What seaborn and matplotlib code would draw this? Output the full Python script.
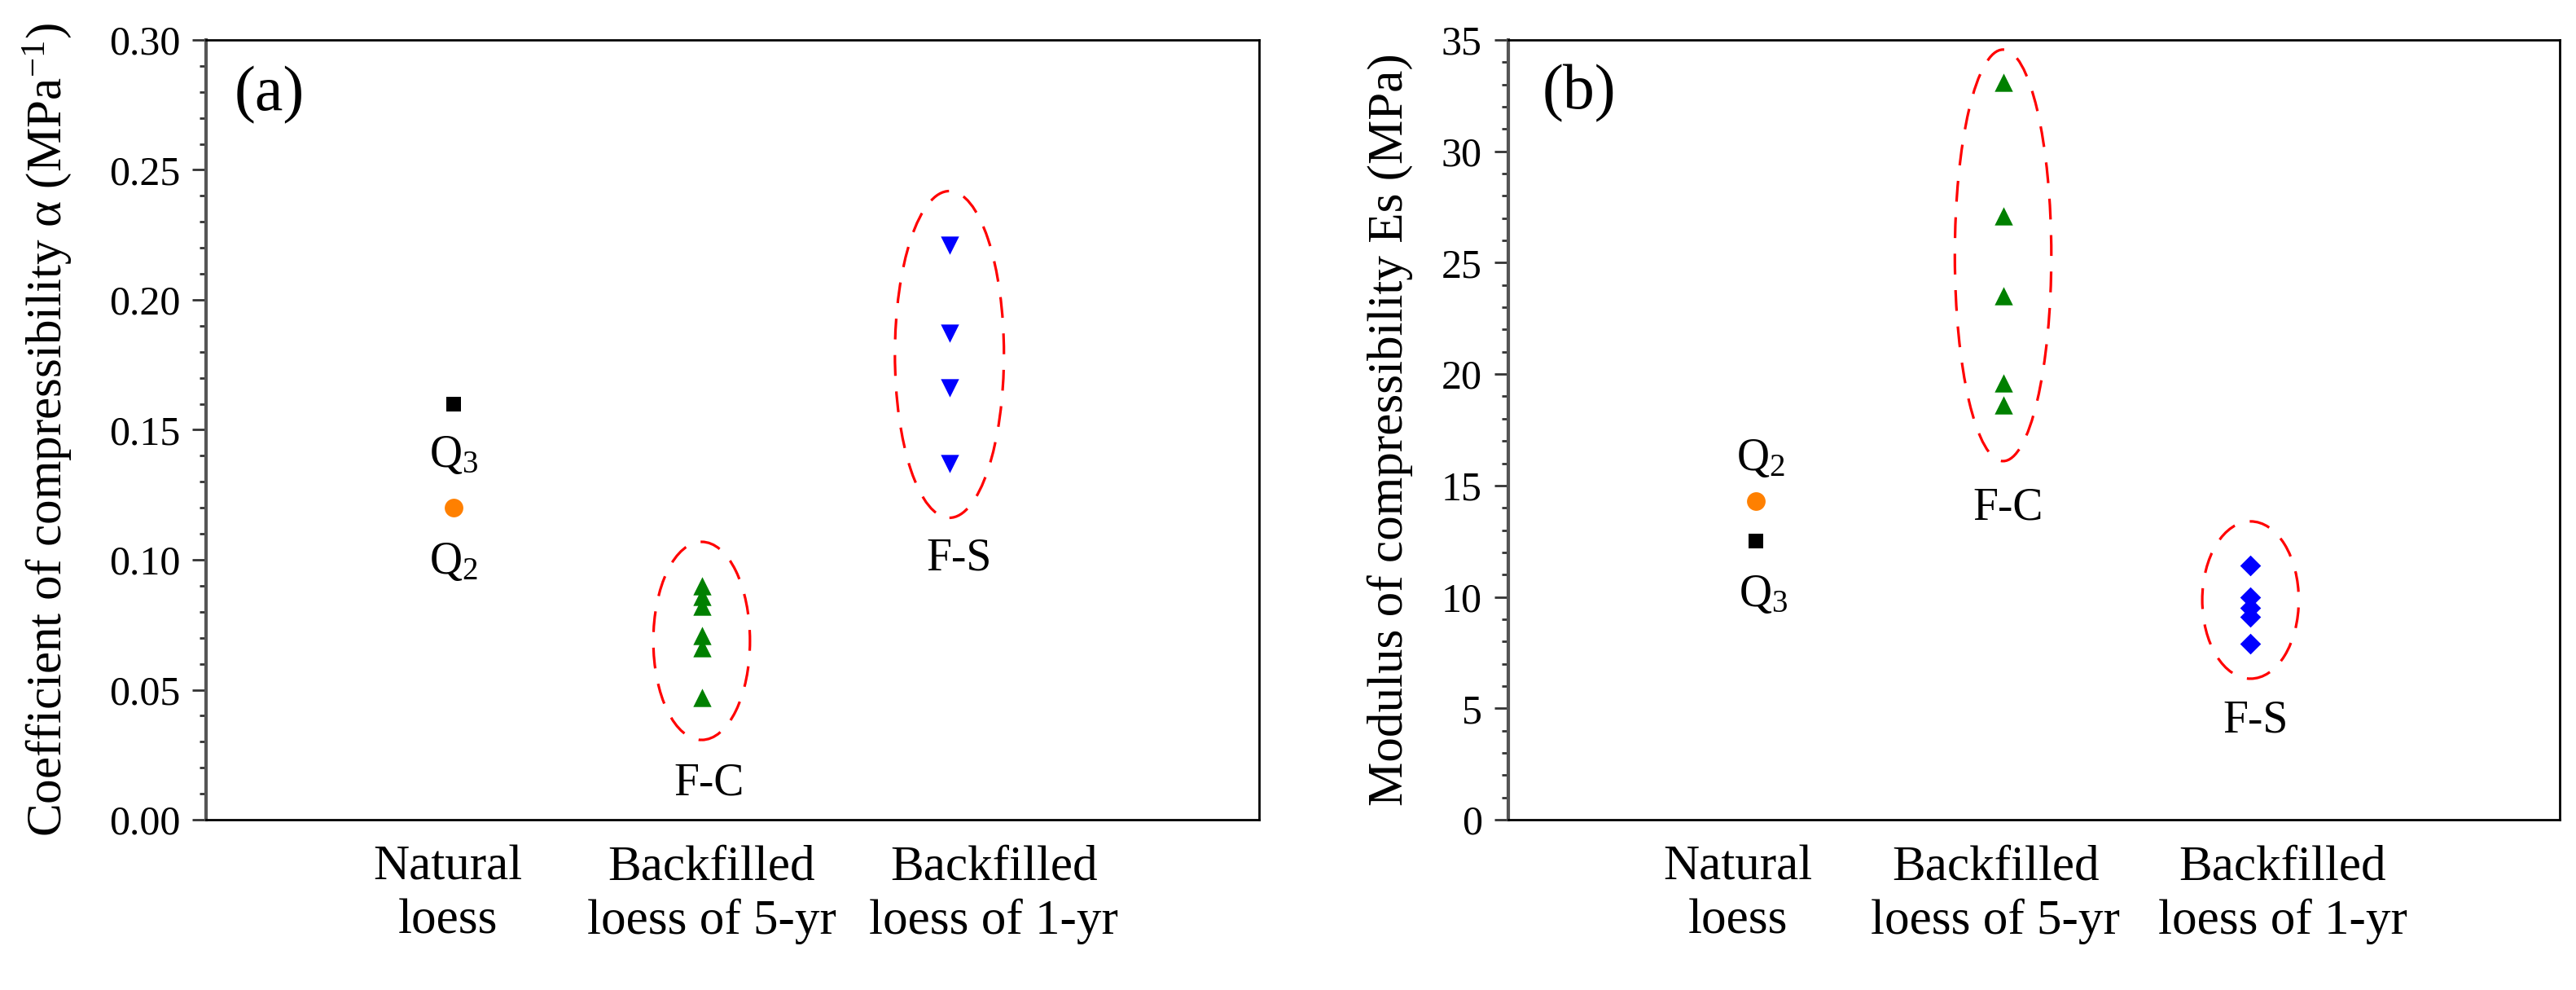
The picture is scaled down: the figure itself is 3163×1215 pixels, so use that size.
import numpy as np
import pandas as pd
import matplotlib
matplotlib.use("Agg")
import matplotlib.pyplot as plt
import matplotlib.transforms as mtrans
import seaborn as sns
from matplotlib.patches import Ellipse
from matplotlib.ticker import MultipleLocator

# categories on the x axis
categories = ["Natural\nloess", "Backfilled\nloess of 5-yr", "Backfilled\nloess of 1-yr"]

# (a) coefficient of compressibility (MPa^-1)
a_q3 = [0.160]
a_q2 = [0.120]
a_fc = [0.090, 0.086, 0.082, 0.071, 0.066, 0.047]
a_fs = [0.221, 0.187, 0.166, 0.137]

# (b) modulus of compressibility Es (MPa)
b_q2 = [14.3]
b_q3 = [12.5]
b_fc = [33.1, 27.1, 23.5, 19.6, 18.6]
b_fs = [11.4, 10.0, 9.5, 9.1, 7.9]

sns.set_theme(style="white")
plt.rcParams["font.family"] = ["Liberation Serif", "DejaVu Serif"]
plt.rcParams["mathtext.fontset"] = "custom"
plt.rcParams["mathtext.rm"] = "Liberation Serif"
plt.rcParams["mathtext.it"] = "Liberation Serif:italic"
for k in ["text.color", "axes.labelcolor", "xtick.color", "ytick.color"]:
    plt.rcParams[k] = "black"


def frame(cat, vals, grp):
    return pd.DataFrame({"cat": [categories[cat]] * len(vals), "val": vals, "grp": grp})


styles = {
    "Q3": dict(marker="s", color="black", s=180),
    "Q2": dict(marker="o", color="#ff8000", s=270),
    "FC": dict(marker="^", color="#008000", s=260),
    "FSa": dict(marker="v", color="#0000ff", s=260),
    "FSb": dict(marker="D", color="#0000ff", s=170),
}

fig = plt.figure(figsize=(31.63, 12.15), dpi=100)
ax1 = fig.add_axes([0.0800, 0.1720, 0.4088, 0.7877])
ax2 = fig.add_axes([0.5855, 0.1720, 0.4082, 0.7877])


def draw(ax, groups):
    for cat, vals, key in groups:
        st = styles[key]
        sns.scatterplot(data=frame(cat, vals, key), x="cat", y="val", ax=ax,
                        marker=st["marker"], color=st["color"], s=st["s"],
                        linewidth=0, legend=False, zorder=3)


# fix the category order on both axes
for ax in (ax1, ax2):
    ax.plot(categories, [np.nan] * 3)

draw(ax1, [(0, a_q3, "Q3"), (0, a_q2, "Q2"), (1, a_fc, "FC"), (2, a_fs, "FSa")])
draw(ax2, [(0, b_q2, "Q2"), (0, b_q3, "Q3"), (1, b_fc, "FC"), (2, b_fs, "FSb")])


def style_axes(ax, ylim, major, minor, ylabel, label_x, label_off, fmt):
    ax.set_xlim(-1.0, 3.25)
    ax.set_ylim(*ylim)
    ax.yaxis.set_major_locator(MultipleLocator(major))
    ax.yaxis.set_minor_locator(MultipleLocator(minor))
    ax.yaxis.set_major_formatter(fmt)
    ax.tick_params(axis="y", which="major", direction="out", length=12, width=2,
                   labelsize=36, pad=11, left=True, color="#333333", labelcolor="black")
    ax.tick_params(axis="y", which="minor", direction="out", length=6, width=2,
                   left=True, color="#333333")
    ax.set_xticks(range(3))
    ax.set_xticklabels(categories, fontsize=44, linespacing=1.25, color="black")
    ax.tick_params(axis="x", length=0, pad=22)
    # shift the category labels a little, like the original layout
    for lab, off in zip(ax.get_xticklabels(), label_off):
        dx = off * 303.5 / 100.0
        lab.set_transform(lab.get_transform() + mtrans.ScaledTranslation(dx, 0, fig.dpi_scale_trans))
    ax.set_xlabel("")
    ax.set_ylabel(ylabel, fontsize=44, color="black")
    ax.yaxis.set_label_coords(label_x, 0.5)
    for sp in ax.spines.values():
        sp.set_visible(True)
        sp.set_color("black")
        sp.set_linewidth(2)
    ax.spines["left"].set_color("#555555")
    ax.spines["left"].set_linewidth(3)


style_axes(ax1, (0, 0.30), 0.05, 0.01,
           r"Coefficient of compressibility α (MPa$^{\mathregular{-1}}$)",
           -0.126, [-0.023, 0.04, 0.18], plt.FormatStrFormatter("%.2f"))
style_axes(ax2, (0, 35), 5, 1,
           "Modulus of compressibility Es (MPa)",
           -0.0905, [-0.072, -0.03, 0.13], plt.FormatStrFormatter("%d"))

# dashed red ellipses around the backfilled groups: (x, y, width, height)
ell_a = [(1.0, 0.0688, 0.39, 0.0762), (2.0, 0.179, 0.44, 0.1257)]
ell_b = [(1.0, 25.33, 0.39, 18.47), (2.0, 9.86, 0.39, 7.06)]
for ax, ells in ((ax1, ell_a), (ax2, ell_b)):
    for x, y, w, h in ells:
        ax.add_patch(Ellipse((x, y), w, h, fill=False, edgecolor="#ff0000",
                             linewidth=2.3, linestyle=(0, (8, 6)), zorder=2))

# text annotations
txt = dict(fontsize=40, ha="center", va="center", color="black")
ax1.text(0.0, 0.140, r"Q$_{\mathregular{3}}$", **txt)
ax1.text(0.0, 0.099, r"Q$_{\mathregular{2}}$", **txt)
ax1.text(1.03, 0.014, "F-C", **txt)
ax1.text(2.04, 0.1006, "F-S", **txt)
ax1.text(0.060, 0.929, "(a)", transform=ax1.transAxes, fontsize=56, ha="center", va="center")

ax2.text(0.02, 16.2, r"Q$_{\mathregular{2}}$", **txt)
ax2.text(0.03, 10.1, r"Q$_{\mathregular{3}}$", **txt)
ax2.text(1.02, 14.0, "F-C", **txt)
ax2.text(2.02, 4.43, "F-S", **txt)
ax2.text(0.067, 0.931, "(b)", transform=ax2.transAxes, fontsize=56, ha="center", va="center")

fig.savefig("out.png", dpi=100, facecolor="white")
